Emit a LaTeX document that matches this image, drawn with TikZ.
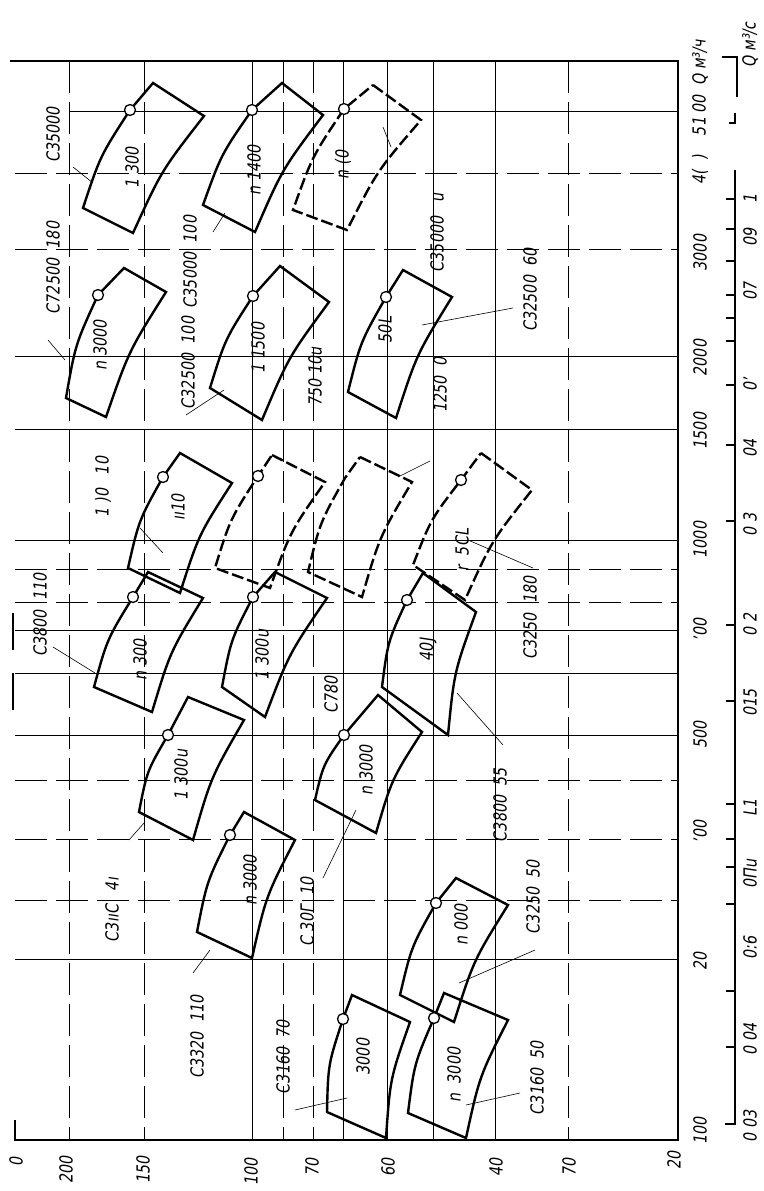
\documentclass[tikz,border=0pt]{standalone}
\usepackage{fontspec}
\newfontfamily\lbl{DejaVu Sans}[FakeStretch=0.8,FakeSlant=0.15]
\usetikzlibrary{calc}
\tikzset{
  fieldline/.style={line width=2.4pt, line join=miter},
  fielddash/.style={line width=2.4pt, line join=miter, dash pattern=on 12pt off 4pt},
  gridsolid/.style={line width=0.7pt},
  griddash/.style={line width=0.7pt, dash pattern=on 32pt off 9pt},
  framel/.style={line width=1.1pt},
  circ/.style={circle, draw, fill=white, line width=1.3pt, inner sep=0pt, minimum size=11pt},
  lab/.style={font=\lbl\fontsize{18}{20}\selectfont, inner sep=0pt, rotate=90},
  leader/.style={line width=0.6pt},
}
\newcommand\fieldshape[7]{%
  \coordinate (#1tl) at (#2);
  \coordinate (#1tr) at (#3);
  \coordinate (#1br) at (#4);
  \coordinate (#1bl) at (#5);
  \coordinate (#1c) at (#6);
  \draw[#7] (#1tl) -- (#1tr) .. controls ($(#1tr)!0.5!(#1br)!8pt!-90:(#1br)$) .. (#1br) -- (#1bl) .. controls ($(#1bl)!0.5!(#1c)!7pt!90:(#1c)$) .. (#1c) -- cycle;
}
\newcommand\ldr[3]{%
  \coordinate (#1a) at (#2);
  \coordinate (#1b) at (#3);
  \draw[leader] (#1a) -- (#1b);
}
\begin{document}
\begin{tikzpicture}[x=1pt,y=-1pt]
\useasboundingbox (0,0) rectangle (763,1191);
\fill[white] (0,0) rectangle (763,1191);

% grid
\foreach \x in {252,343,387,433,495} \draw[gridsolid] (\x,61) -- (\x,1140);
\foreach \x in {69,144,283,313,568} \draw[griddash] (\x,61) -- (\x,1140);
\foreach \y in {356,429,540,630,673,735,959} \draw[gridsolid] (15,\y) -- (678,\y);
\draw[gridsolid] (70,111) -- (678,111);
\foreach \y in {173,249,569,602,780,839,900} \draw[griddash] (15,\y) -- (678,\y);

% frame
\draw[framel] (10,61) -- (678,61) -- (678,1140) -- (15,1140) -- (15,1120);
\draw[framel] (13,613) -- (13,650);
\draw[framel] (13,673) -- (13,710);

% second axis (m3/s)
\draw[framel] (735,170) -- (735,1124) -- (725,1124);
\foreach \t in {199,229,261,295,318,341,385,445,521,625,701,804,839,867,904,991,1047}
  \draw[framel] (726,\t) -- (735,\t);
\draw[framel] (722,57) -- (737,57) -- (737,97);
\draw[framel] (735,113) -- (735,123) -- (729,123);

% pump fields
\fieldshape{A}{153,83}{204,116}{133,233}{83,208}{130,110}{fieldline}
\fieldshape{C}{282,83}{323,115}{255,232}{203,205}{252,110}{fieldline}
\fieldshape{D}{373,85}{421,120}{347,230}{293,210}{344,109}{fielddash}
\fieldshape{B}{124,268}{166,292}{106,417}{66,398}{98,295}{fieldline}
\fieldshape{E}{280,266}{329,302}{262,420}{210,388}{253,296}{fieldline}
\fieldshape{F}{403,270}{452,297}{396,418}{348,392}{386,297}{fieldline}
\fieldshape{G}{180,453}{232,483}{180,593}{128,568}{163,477}{fieldline}
\fieldshape{J}{272,455}{325,482}{270,588}{215,568}{258,476}{fielddash}
\fieldshape{K}{360,457}{412,482}{362,597}{308,572}{345,478}{fielddash}
\fieldshape{L}{481,453}{532,490}{465,600}{413,565}{461,480}{fielddash}
\fieldshape{H}{148,572}{203,598}{152,712}{94,687}{133,597}{fieldline}
\fieldshape{P}{275,572}{327,598}{265,717}{222,687}{253,597}{fieldline}
\fieldshape{N}{423,573}{476,612}{448,735}{382,687}{407,600}{fieldline}
\fieldshape{I}{188,697}{244,720}{193,840}{139,812}{168,735}{fieldline}
\fieldshape{M}{378,695}{422,732}{376,833}{315,800}{344,735}{fieldline}
\fieldshape{T}{244,812}{295,840}{252,958}{197,932}{230,835}{fieldline}
\fieldshape{S}{456,878}{508,905}{454,1022}{400,995}{436,903}{fieldline}
\fieldshape{Q}{352,995}{410,1022}{386,1138}{327,1112}{343,1019}{fieldline}
\fieldshape{R}{444,993}{508,1020}{466,1138}{408,1113}{434,1018}{fieldline}
\foreach \n in {A,C,D,B,E,F,G,J,L,H,P,N,I,M,T,S,Q,R} \node[circ] (\n o) at (\n c) {};

% texts inside fields
\node[lab] (tA) at (132,168) {1~300};
\node[lab] (tC) at (254,170) {n~1400};
\node[lab] (tD) at (343,165) {n~(0};
\node[lab] (tB) at (100,345) {n~3000};
\node[lab] (tE) at (258,348) {1~1500};
\node[lab] (tF) at (385,330) {50L};
\node[lab] (tG) at (178,507) {ıı10};
\node[lab] (tH) at (140,660) {n~300};
\node[lab] (tP) at (262,655) {1~300u};
\node[lab] (tN) at (428,650) {40J};
\node[lab] (tI) at (181,775) {1~300u};
\node[lab] (tL) at (462,550) {r~~5CL};
\node[lab] (tM) at (366,770) {n~3000};
\node[lab] (tT) at (250,880) {n~3000};
\node[lab] (tS) at (461,925) {n~000};
\node[lab] (tQ) at (363,1057) {3000};
\node[lab] (tR) at (454,1075) {n~~3000};

% external labels
\node[lab] (lA) at (53,135) {С35000};
\node[lab] (lB) at (53,268) {С72500~~180};
\node[lab] (lC) at (190,262) {С35000~~100};
\node[lab] (lE) at (188,363) {С32500~~100};
\node[lab] (l750) at (315,377) {750~10u};
\node[lab] (l1250) at (440,385) {1250~~0};
\node[lab] (lD) at (437,233) {С35000~~~u};
\node[lab] (lF) at (530,290) {С32500~~60};
\node[lab] (lG) at (103,487) {1~)0~~~10};
\node[lab] (lH) at (40,615) {С3800~~110};
\node[lab] (lI) at (112,910) {С3ııС~~~4ı};
\node[lab] (lT) at (197,1037) {С3320~~110};
\node[lab] (lM) at (307,912) {С~30Г~~10};
\node[lab] (l780) at (331,695) {С780};
\node[lab] (lQ) at (283,1057) {С3160~~70};
\node[lab] (lR) at (537,1078) {С3160~~50};
\node[lab] (lS) at (533,897) {С3250~~50};
\node[lab] (lN) at (500,805) {С3800~~55};
\node[lab] (lL) at (530,618) {С3250~~180};

% leaders
\ldr{LA}{73,167}{93,183}
\ldr{LB}{48,340}{65,360}
\ldr{LC}{213,232}{225,213}
\ldr{LE}{186,415}{224,390}
\ldr{LF}{513,308}{422,325}
\ldr{LD}{383,127}{391,147}
\ldr{LH}{53,647}{95,673}
\ldr{LG}{140,528}{163,553}
\ldr{LK}{398,477}{430,461}
\ldr{LL}{533,568}{468,540}
\ldr{LI}{129,840}{144,823}
\ldr{LM}{323,878}{356,810}
\ldr{LN}{503,745}{457,693}
\ldr{LT}{193,973}{210,950}
\ldr{LQ}{295,1110}{347,1098}
\ldr{LR}{466,1105}{520,1093}
\ldr{LS}{535,950}{459,983}

% Q axis labels (m3/h)
\node[lab] (q100) at (700,1131) {100};
\node[lab] (q200) at (700,961) {20};
\node[lab] (q300) at (700,832) {ʼ00};
\node[lab] (q500) at (700,735) {500};
\node[lab] (q700) at (700,630) {ʼ00};
\node[lab] (q1000) at (700,540) {1000};
\node[lab] (q1500) at (700,431) {1500};
\node[lab] (q2000) at (700,358) {2000};
\node[lab] (q3000) at (700,253) {3000};
\node[lab] (q4000) at (700,170) {4(~~)};
\node[lab] (qunit) at (700,88) {51~00~~Q~м³/ч};

% Q axis labels (m3/s)
\node[lab] (s1) at (750,199) {1};
\node[lab] (s09) at (750,237) {09};
\node[lab] (s07) at (750,291) {07};
\node[lab] (s05) at (750,385) {0ʼ};
\node[lab] (s04) at (750,448) {04};
\node[lab] (s03) at (750,525) {0~3};
\node[lab] (s02) at (750,625) {0~2};
\node[lab] (s015) at (750,703) {015};
\node[lab] (s01) at (750,808) {L1};
\node[lab] (s008) at (750,874) {0Пu};
\node[lab] (s006) at (750,948) {0:6};
\node[lab] (s004) at (750,1039) {0~04};
\node[lab] (s003) at (750,1126) {0~03};
\node[lab] (sunit) at (750,45) {Q~м³/с};

% H axis labels
\node[lab] (h250) at (16,1162) {0};
\node[lab] (h200) at (66,1170) {200};
\node[lab] (h150) at (143,1170) {150};
\node[lab] (h100) at (251,1172) {100};
\node[lab] (h80) at (312,1167) {70};
\node[lab] (h60) at (388,1167) {60};
\node[lab] (h40) at (496,1167) {40};
\node[lab] (h30) at (569,1167) {70};
\node[lab] (h20) at (674,1160) {20};
\end{tikzpicture}
\end{document}
